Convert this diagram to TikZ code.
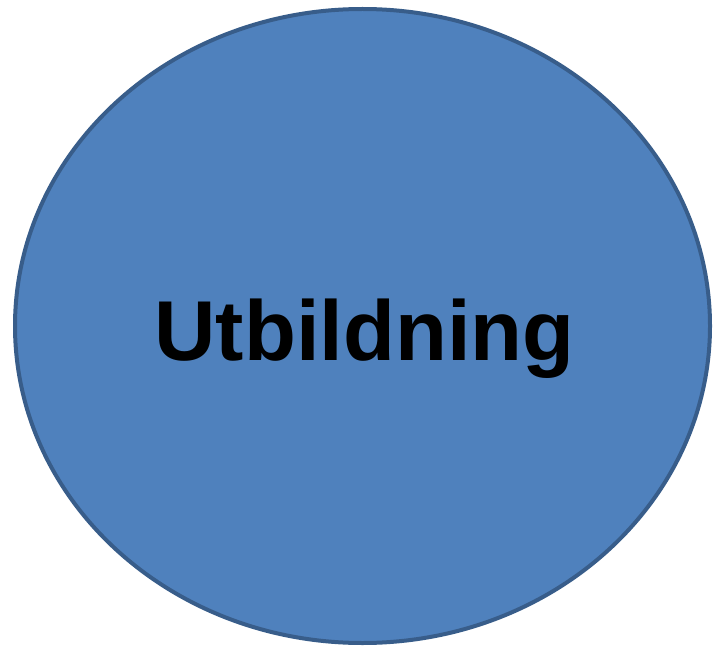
\documentclass[tikz,border=0pt]{standalone}
\usepackage{fontspec}
\setmainfont{Liberation Sans}
\usetikzlibrary{shapes.geometric}
\definecolor{blobfill}{HTML}{4F81BD}
\definecolor{blobline}{HTML}{385D8A}
\tikzset{
  topic/.style={ellipse, fill=blobfill, draw=blobline, line width=4pt,
    minimum width=695pt, minimum height=634pt, inner sep=0pt},
  topictext/.style={anchor=base, inner sep=0pt,
    font=\fontsize{85}{100}\selectfont\bfseries},
}
\begin{document}
\begin{tikzpicture}[x=1pt,y=1pt]
  \useasboundingbox (0,0) rectangle (714,649);
  \node[topic] (edu) at (362.5,323) {};
  \node[topictext] (edulabel) at ([xshift=2pt,yshift=-34pt]edu.center) {Utbildning};
\end{tikzpicture}
\end{document}
